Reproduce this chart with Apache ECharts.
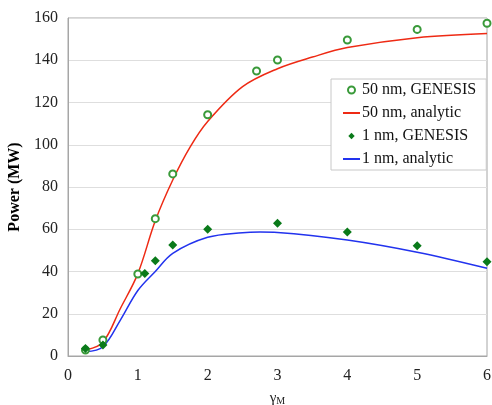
<!DOCTYPE html>
<html>
<head>
<meta charset="utf-8">
<script src="https://cdn.jsdelivr.net/npm/echarts@6/dist/echarts.min.js"></script>
<style>html,body{margin:0;padding:0;background:#fff;}#c{width:492px;height:405px;}</style>
</head>
<body>
<div id="c"></div>
<script>
const xTicks = [0, 1, 2, 3, 4, 5, 6];
const yTicks = [0, 20, 40, 60, 80, 100, 120, 140, 160];

const genesis50X = [0.25, 0.5, 1.0, 1.25, 1.5, 2.0, 2.7, 3.0, 4.0, 5.0, 6.0];
const genesis50Y = [2.8, 7.6, 38.8, 65.0, 86.2, 114.2, 134.9, 140.1, 149.6, 154.6, 157.5];

const analytic50X = [0.27, 0.5, 0.75, 1.0, 1.25, 1.5, 1.75, 2.0, 2.5, 3.0, 3.5, 4.0, 5.0, 6.0];
const analytic50Y = [3.0, 6.5, 22.5, 39.0, 64.0, 83.3, 99.0, 111.0, 127.5, 136.0, 141.5, 146.0, 150.7, 152.7];

const genesis1X = [0.25, 0.5, 1.1, 1.25, 1.5, 2.0, 3.0, 4.0, 5.0, 6.0];
const genesis1Y = [3.6, 5.2, 39.0, 45.1, 52.5, 60.0, 62.8, 58.7, 52.2, 44.6];

const analytic1X = [0.25, 0.5, 0.75, 1.0, 1.25, 1.5, 2.0, 2.5, 2.75, 3.0, 4.0, 5.0, 6.0];
const analytic1Y = [2.0, 4.4, 17.0, 31.0, 40.0, 48.6, 56.2, 58.4, 58.7, 58.5, 54.9, 49.1, 41.5];

const names = ['50 nm, GENESIS', '50 nm, analytic', '1 nm, GENESIS', '1 nm, analytic'];

function pairs(xs, ys) { return xs.map((x, i) => [x, ys[i]]); }

const FONT = '"Liberation Serif", "Times New Roman", serif';
const chart = echarts.init(document.getElementById('c'), null, {renderer: 'canvas'});
chart.setOption({
  animation: false,
  backgroundColor: '#fff',
  grid: {left: 68, right: 5, top: 18, bottom: 49, show: true, borderColor: '#a6a6a6', borderWidth: 1,
         containLabel: false, outerBoundsMode: 'none'},
  xAxis: {
    type: 'value', min: xTicks[0], max: xTicks[xTicks.length - 1], interval: 1,
    axisLine: {show: true, lineStyle: {color: '#a6a6a6'}},
    axisTick: {show: false},
    splitLine: {show: false},
    axisLabel: {fontFamily: FONT, fontSize: 16, color: '#222', margin: 12},
    name: '{g|γ}{s|M}', nameLocation: 'middle', nameGap: 34,
    nameTextStyle: {
      rich: {
        g: {fontFamily: FONT, fontSize: 15, color: '#222'},
        s: {fontFamily: FONT, fontSize: 10, color: '#222', padding: [6, 0, 0, 0]}
      }
    }
  },
  yAxis: {
    type: 'value', min: yTicks[0], max: yTicks[yTicks.length - 1], interval: 20,
    axisLine: {show: true, lineStyle: {color: '#a6a6a6'}},
    axisTick: {show: false},
    splitLine: {show: true, lineStyle: {color: '#dedede', width: 1}},
    axisLabel: {fontFamily: FONT, fontSize: 16, color: '#222', margin: 10},
    name: 'Power (MW)', nameLocation: 'middle', nameGap: 33, nameRotate: 90,
    nameTextStyle: {fontFamily: FONT, fontSize: 16, fontWeight: 'bold', color: '#000'}
  },
  legend: {
    orient: 'vertical', left: 331, top: 79,
    data: [
      {name: names[0], icon: 'emptyCircle'},
      {name: names[1], itemStyle: {opacity: 0}},
      {name: names[2], icon: 'path://M0,0 M17,7 M8.5,0.3 L11.7,3.5 L8.5,6.7 L5.3,3.5 Z'},
      {name: names[3], itemStyle: {opacity: 0}}
    ],
    backgroundColor: '#fff', borderColor: '#c8c8c8', borderWidth: 1,
    padding: [3, 10, 3, 11], itemGap: 7, itemWidth: 17, itemHeight: 7,
    textStyle: {fontFamily: FONT, fontSize: 16, color: '#111', padding: [0, 0, 0, -3]}
  },
  series: [
    {
      name: names[0], type: 'scatter', data: pairs(genesis50X, genesis50Y),
      symbol: 'emptyCircle', symbolSize: 7,
      itemStyle: {color: '#3a9a3a', borderColor: '#3a9a3a', borderWidth: 1, opacity: 1}, z: 5
    },
    {
      name: names[1], type: 'line', data: pairs(analytic50X, analytic50Y),
      smooth: 0.35, showSymbol: false, symbol: 'none',
      lineStyle: {color: '#ee2a14', width: 1.5}, itemStyle: {color: '#ee2a14'}, z: 3
    },
    {
      name: names[2], type: 'scatter', data: pairs(genesis1X, genesis1Y),
      symbol: 'diamond', symbolSize: 9,
      itemStyle: {color: '#0a7a1a', opacity: 1}, z: 5
    },
    {
      name: names[3], type: 'line', data: pairs(analytic1X, analytic1Y),
      smooth: 0.35, showSymbol: false, symbol: 'none',
      lineStyle: {color: '#2233ee', width: 1.5}, itemStyle: {color: '#2233ee'}, z: 3
    }
  ]
});
</script>
</body>
</html>
